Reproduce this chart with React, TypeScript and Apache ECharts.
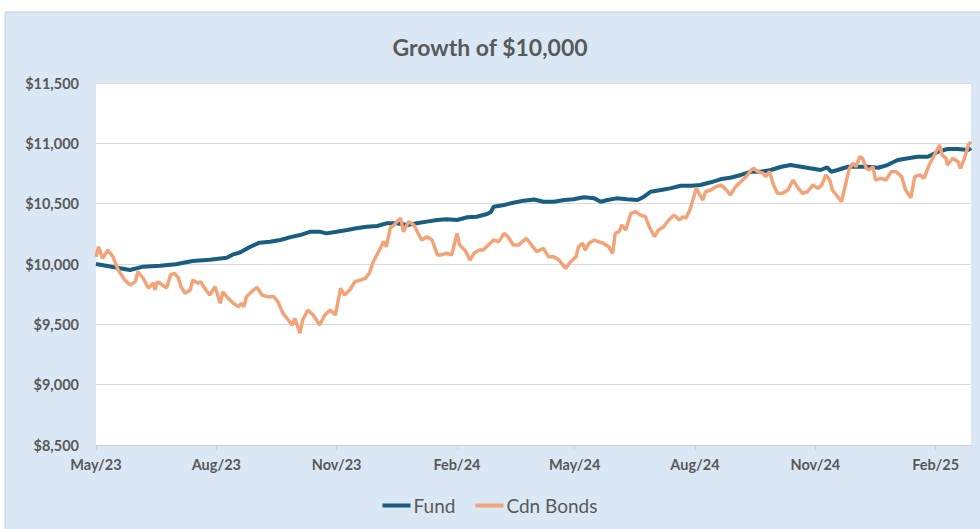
import React, { useEffect, useRef } from "react";
import * as echarts from "echarts";

// x positions are days since 1 May 2023
const tickDays = [0, 92, 184, 276, 366, 458, 550, 642];
const tickLabels = ["May/23", "Aug/23", "Nov/23", "Feb/24", "May/24", "Aug/24", "Nov/24", "Feb/25"];
const yTicks = [8500, 9000, 9500, 10000, 10500, 11000, 11500];

const fundDays = [0, 13, 26, 36, 49, 61, 74, 87, 100, 105, 110, 118, 125, 133, 141, 148, 156, 164, 171, 176, 184, 192, 199, 207, 215, 222, 230, 238, 245, 253, 261, 268, 276, 284, 291, 299, 302, 304, 312, 319, 327, 335, 342, 350, 358, 365, 373, 381, 386, 391, 398, 406, 414, 419, 424, 432, 439, 447, 455, 462, 470, 478, 485, 493, 501, 508, 516, 524, 531, 539, 546, 554, 559, 562, 567, 575, 582, 590, 598, 605, 613, 621, 628, 636, 644, 651, 659, 667, 669];
const fundValues = [10000, 9975, 9950, 9978, 9986, 9998, 10025, 10036, 10052, 10080, 10095, 10143, 10177, 10185, 10199, 10221, 10240, 10268, 10268, 10254, 10268, 10282, 10296, 10309, 10315, 10337, 10337, 10323, 10337, 10351, 10365, 10370, 10365, 10387, 10392, 10414, 10433, 10475, 10489, 10508, 10525, 10535, 10516, 10516, 10530, 10536, 10553, 10544, 10516, 10530, 10544, 10536, 10530, 10558, 10599, 10613, 10627, 10648, 10649, 10655, 10677, 10704, 10715, 10738, 10765, 10765, 10779, 10806, 10820, 10806, 10793, 10779, 10800, 10765, 10779, 10806, 10806, 10806, 10798, 10820, 10862, 10876, 10889, 10889, 10931, 10953, 10953, 10945, 10960];

const bondDays = [0, 2, 5, 9, 13, 17, 22, 26, 30, 32, 36, 40, 44, 45, 47, 51, 54, 57, 60, 63, 65, 68, 72, 74, 78, 80, 84, 87, 91, 95, 97, 101, 105, 109, 111, 113, 115, 119, 123, 127, 131, 136, 139, 143, 147, 150, 152, 156, 158, 162, 166, 171, 175, 179, 183, 187, 190, 194, 198, 202, 206, 209, 212, 216, 220, 222, 225, 228, 230, 233, 235, 239, 243, 247, 249, 253, 257, 261, 264, 268, 272, 276, 278, 282, 286, 289, 293, 296, 300, 304, 308, 312, 315, 319, 323, 326, 329, 333, 337, 342, 346, 350, 354, 359, 363, 367, 369, 372, 374, 377, 381, 384, 388, 392, 395, 397, 400, 402, 405, 409, 413, 416, 420, 423, 427, 430, 434, 438, 442, 446, 449, 451, 454, 456, 459, 461, 464, 466, 470, 474, 478, 482, 485, 489, 493, 497, 501, 503, 506, 510, 512, 515, 518, 521, 525, 529, 533, 536, 540, 544, 548, 552, 555, 558, 561, 563, 567, 570, 573, 576, 579, 581, 584, 586, 589, 591, 594, 596, 600, 604, 608, 612, 616, 619, 623, 626, 630, 633, 637, 641, 645, 647, 650, 651, 655, 659, 661, 664, 667, 669];
const bondValues = [10060, 10143, 10047, 10116, 10060, 9950, 9867, 9826, 9853, 9936, 9884, 9801, 9843, 9785, 9853, 9826, 9801, 9909, 9923, 9884, 9812, 9757, 9785, 9867, 9840, 9853, 9785, 9743, 9812, 9674, 9770, 9716, 9674, 9646, 9674, 9646, 9729, 9770, 9807, 9743, 9729, 9729, 9688, 9591, 9536, 9494, 9550, 9426, 9536, 9619, 9577, 9494, 9577, 9619, 9577, 9799, 9743, 9785, 9853, 9867, 9881, 9923, 10019, 10102, 10185, 10143, 10300, 10323, 10351, 10379, 10268, 10351, 10323, 10240, 10199, 10226, 10199, 10075, 10075, 10089, 10075, 10254, 10157, 10116, 10033, 10089, 10116, 10116, 10157, 10199, 10185, 10254, 10226, 10157, 10157, 10185, 10213, 10157, 10102, 10130, 10060, 10060, 10033, 9964, 10019, 10060, 10143, 10172, 10116, 10172, 10199, 10185, 10172, 10143, 10089, 10254, 10268, 10323, 10282, 10420, 10433, 10406, 10392, 10309, 10226, 10282, 10309, 10365, 10406, 10365, 10392, 10379, 10448, 10516, 10627, 10586, 10530, 10599, 10613, 10641, 10655, 10613, 10572, 10641, 10682, 10723, 10779, 10793, 10765, 10752, 10723, 10765, 10655, 10586, 10586, 10613, 10696, 10641, 10586, 10599, 10655, 10627, 10655, 10738, 10696, 10613, 10558, 10516, 10655, 10793, 10834, 10806, 10889, 10876, 10793, 10779, 10806, 10696, 10710, 10696, 10765, 10765, 10723, 10613, 10549, 10723, 10738, 10710, 10820, 10903, 10986, 10903, 10876, 10820, 10876, 10848, 10793, 10876, 10986, 11013];

const FUND_COLOR = "#175E80";
const BOND_COLOR = "#F2A478";
const TEXT_COLOR = "#595959";

export default function App() {
  const ref = useRef<HTMLDivElement>(null);
  useEffect(() => {
    if (!ref.current) return;
    const chart = echarts.init(ref.current, null, { renderer: "svg" });
    const fundData = fundDays.map((d, i) => [d, fundValues[i]]);
    const bondData = bondDays.map((d, i) => [d, bondValues[i]]);
    chart.setOption({
      animation: false,
      backgroundColor: "#ffffff",
      graphic: [
        {
          type: "rect",
          z: -10,
          shape: { x: 5, y: 12, width: 980, height: 530 },
          style: { fill: "#DAE8F5", stroke: "#CCCCCC", lineWidth: 1 },
        },
      ],
      title: {
        text: "Growth of $10,000",
        left: "center",
        top: 30,
        textStyle: { fontFamily: "Lato", fontWeight: "bold", fontSize: 23, color: TEXT_COLOR },
      },
      legend: {
        bottom: 9,
        left: "center",
        icon: "rect",
        itemWidth: 28,
        itemHeight: 4,
        itemGap: 20,
        textStyle: { fontFamily: "Lato", fontSize: 19, color: TEXT_COLOR, padding: [0, 0, 0, -2] },
        data: ["Fund", "Cdn Bonds"],
      },
      grid: {
        left: 96,
        right: 9,
        top: 83,
        bottom: 84,
        show: true,
        backgroundColor: "#ffffff",
        borderWidth: 0,
      },
      xAxis: {
        type: "value",
        min: 0,
        max: 669,
        splitLine: { show: false },
        axisLine: { show: true, lineStyle: { color: "#D0D0D0", width: 1 } },
        axisTick: { show: true, customValues: tickDays, length: 5, lineStyle: { color: "#D0D0D0" } },
        axisLabel: {
          customValues: tickDays,
          margin: 12,
          fontFamily: "Lato",
          fontWeight: "bold",
          fontSize: 14.5,
          color: TEXT_COLOR,
          formatter: (v: number) => {
            const i = tickDays.indexOf(v);
            return i >= 0 ? tickLabels[i] : "";
          },
        },
      },
      yAxis: {
        type: "value",
        min: yTicks[0],
        max: yTicks[yTicks.length - 1],
        interval: 500,
        axisLine: { show: false },
        axisTick: { show: false },
        splitLine: { lineStyle: { color: "#D9D9D9", width: 1 } },
        axisLabel: {
          margin: 17,
          fontFamily: "Lato",
          fontWeight: "bold",
          fontSize: 14.5,
          color: TEXT_COLOR,
          formatter: (v: number) => "$" + v.toLocaleString("en-US"),
        },
      },
      series: [
        {
          name: "Fund",
          type: "line",
          data: fundData,
          symbol: "none",
          lineStyle: { color: FUND_COLOR, width: 4 },
          itemStyle: { color: FUND_COLOR },
        },
        {
          name: "Cdn Bonds",
          type: "line",
          data: bondData,
          symbol: "none",
          lineStyle: { color: BOND_COLOR, width: 3.5 },
          itemStyle: { color: BOND_COLOR },
        },
      ],
    });
    return () => chart.dispose();
  }, []);
  return (
    <div
      ref={ref}
      style={{ position: "fixed", left: 0, top: 0, width: 980, height: 529 }}
    />
  );
}
